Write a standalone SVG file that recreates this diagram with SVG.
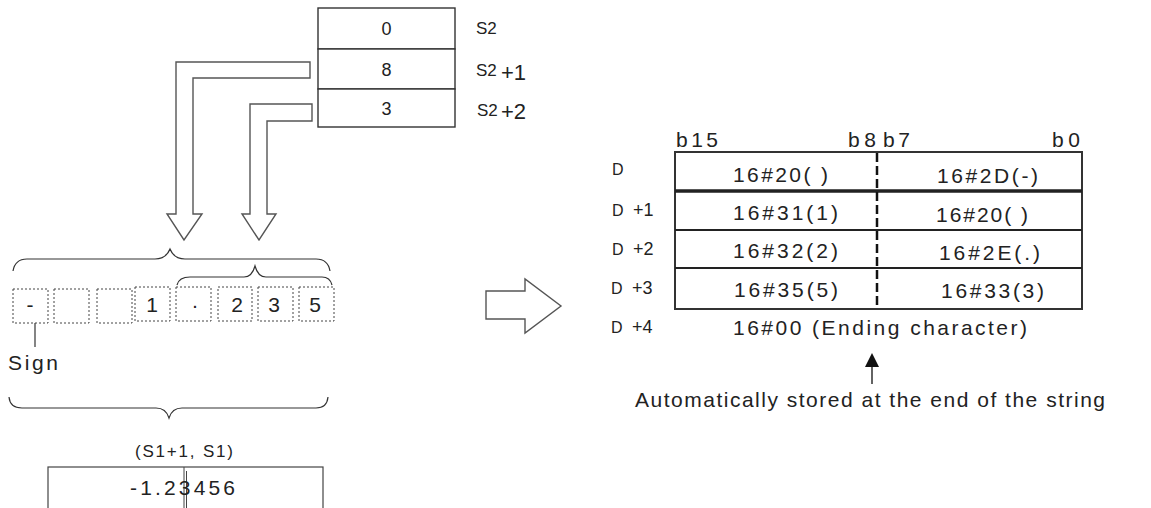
<svg xmlns="http://www.w3.org/2000/svg" width="1151" height="508" viewBox="0 0 1151 508">
<style>
text{font-family:"Liberation Sans",Arial,sans-serif;fill:#222}
.cell{fill:#fff;stroke:#333;stroke-width:1.4}
.hollow{fill:#fff;stroke:#555;stroke-width:1.4;stroke-linejoin:miter}
.brace{fill:none;stroke:#333;stroke-width:1.2}
.dot{fill:none;stroke:#444;stroke-width:1;stroke-dasharray:2 2}
.t21{font-size:21px}
.t22{font-size:22px}
.t18{font-size:18px}
.t17{font-size:17px}
.t16{font-size:16px}
</style>
<rect width="1151" height="508" fill="#fff"/>

<g id="s2-table">
<rect class="cell" x="318" y="8" width="137" height="41"/>
<rect class="cell" x="318" y="49" width="137" height="40"/>
<rect class="cell" x="318" y="89" width="137" height="38"/>
<text class="t18" x="386.5" y="35" text-anchor="middle">0</text>
<text class="t18" x="386.5" y="76" text-anchor="middle">8</text>
<text class="t18" x="386.5" y="115" text-anchor="middle">3</text>
<text class="t17" x="476" y="34">S2</text>
<text x="476" y="76"><tspan class="t17">S2</tspan><tspan class="t22" x="501" y="80">+1</tspan></text>
<text x="477" y="116"><tspan class="t17">S2</tspan><tspan class="t22" x="501" y="119">+2</tspan></text>
</g>

<g id="connectors">
<polygon class="hollow" points="310,62 176,62 176,214 167,214 184,240 202,214 193,214 193,78 310,78"/>
<polygon class="hollow" points="312,104 250,104 250,214 242,214 259,240 276,214 267,214 267,121 312,121"/>
<polygon class="hollow" points="486,291 525,291 525,279 561,306 525,333 525,319 486,319"/>
<line x1="872" y1="384" x2="872" y2="366" stroke="#222" stroke-width="1.4"/>
<polygon points="865,367 879,367 872,353" fill="#111"/>
<line x1="35" y1="323" x2="35" y2="347" stroke="#333" stroke-width="1.2"/>
</g>

<g id="braces">
<path class="brace" d="M13,271 Q15,259 27,259 L155,259 Q166,259 170,249 Q174,259 185,259 L316,259 Q328,259 330,271"/>
<path class="brace" d="M177,285 Q179,277 190,277 L244,277 Q252,277 255,266 Q258,277 266,277 L322,277 Q330,277 332,285"/>
<path class="brace" d="M9,397 Q10,408 22,408 L156,408 Q166,408 169,418 Q172,408 182,408 L316,408 Q327,408 328,397"/>
</g>

<g id="digits">
<rect class="dot" x="13" y="289" width="35" height="34"/>
<rect class="dot" x="54" y="289" width="35" height="34"/>
<rect class="dot" x="97" y="289" width="35" height="34"/>
<rect class="dot" x="135" y="287" width="35" height="34"/>
<rect class="dot" x="176" y="287" width="35" height="34"/>
<rect class="dot" x="218" y="287" width="34" height="34"/>
<rect class="dot" x="258" y="287" width="35" height="34"/>
<rect class="dot" x="299" y="287" width="35" height="34"/>
<text class="t21" x="30" y="312" text-anchor="middle">-</text>
<text class="t21" x="152" y="312" text-anchor="middle">1</text>
<text class="t21" x="195" y="312" text-anchor="middle">·</text>
<text class="t21" x="237" y="312" text-anchor="middle">2</text>
<text class="t21" x="274" y="312" text-anchor="middle">3</text>
<text class="t21" x="315" y="312" text-anchor="middle">5</text>
</g>

<g id="sign">
<text class="t21" x="8" y="370" textLength="50" lengthAdjust="spacing">Sign</text>
</g>

<g id="result">
<text class="t17" x="135" y="457" textLength="98" lengthAdjust="spacing">(S1+1, S1)</text>
<rect x="48" y="467" width="275" height="50" fill="#fff" stroke="#444" stroke-width="1.2"/>
<line x1="184" y1="467" x2="184" y2="508" stroke="#444" stroke-width="1"/>
<line x1="186.5" y1="471" x2="186.5" y2="508" stroke="#444" stroke-width="1"/>
<text class="t21" x="130" y="495" textLength="105" lengthAdjust="spacing">-1.23456</text>
</g>

<g id="d-table">
<text class="t21" x="676" y="147" textLength="42" lengthAdjust="spacing">b15</text>
<text class="t21" x="848" y="147" textLength="28" lengthAdjust="spacing">b8</text>
<text class="t21" x="883" y="147" textLength="27" lengthAdjust="spacing">b7</text>
<text class="t21" x="1052" y="147" textLength="28" lengthAdjust="spacing">b0</text>
<rect x="675" y="152" width="407" height="157" fill="#fff" stroke="#333" stroke-width="2"/>
<line x1="675" y1="191" x2="1082" y2="191" stroke="#222" stroke-width="3.5"/>
<line x1="675" y1="230" x2="1082" y2="230" stroke="#222" stroke-width="2"/>
<line x1="675" y1="268" x2="1082" y2="268" stroke="#222" stroke-width="2"/>
<line x1="877" y1="153" x2="877" y2="309" stroke="#111" stroke-width="2.5" stroke-dasharray="9 4"/>
<text class="t16" x="612" y="175">D</text>
<text x="612" y="216"><tspan class="t16">D</tspan><tspan class="t18" x="633">+1</tspan></text>
<text x="612" y="255"><tspan class="t16">D</tspan><tspan class="t18" x="633">+2</tspan></text>
<text x="611" y="294"><tspan class="t16">D</tspan><tspan class="t18" x="632">+3</tspan></text>
<text x="611" y="333"><tspan class="t16">D</tspan><tspan class="t18" x="632">+4</tspan></text>
<text class="t21" x="733" y="182" textLength="95" lengthAdjust="spacing">16#20( )</text>
<text class="t21" x="733" y="220" textLength="105" lengthAdjust="spacing">16#31(1)</text>
<text class="t21" x="733" y="258" textLength="105" lengthAdjust="spacing">16#32(2)</text>
<text class="t21" x="734" y="297" textLength="104" lengthAdjust="spacing">16#35(5)</text>
<text class="t21" x="937" y="183" textLength="101" lengthAdjust="spacing">16#2D(-)</text>
<text class="t21" x="936" y="222" textLength="92" lengthAdjust="spacing">16#20( )</text>
<text class="t21" x="939" y="260" textLength="101" lengthAdjust="spacing">16#2E(.)</text>
<text class="t21" x="941" y="298" textLength="103" lengthAdjust="spacing">16#33(3)</text>
<text class="t21" x="733" y="335" textLength="294" lengthAdjust="spacing">16#00 (Ending character)</text>
</g>

<g id="end-note">
<text class="t21" x="635" y="407" textLength="470" lengthAdjust="spacing">Automatically stored at the end of the string</text>
</g>
</svg>
